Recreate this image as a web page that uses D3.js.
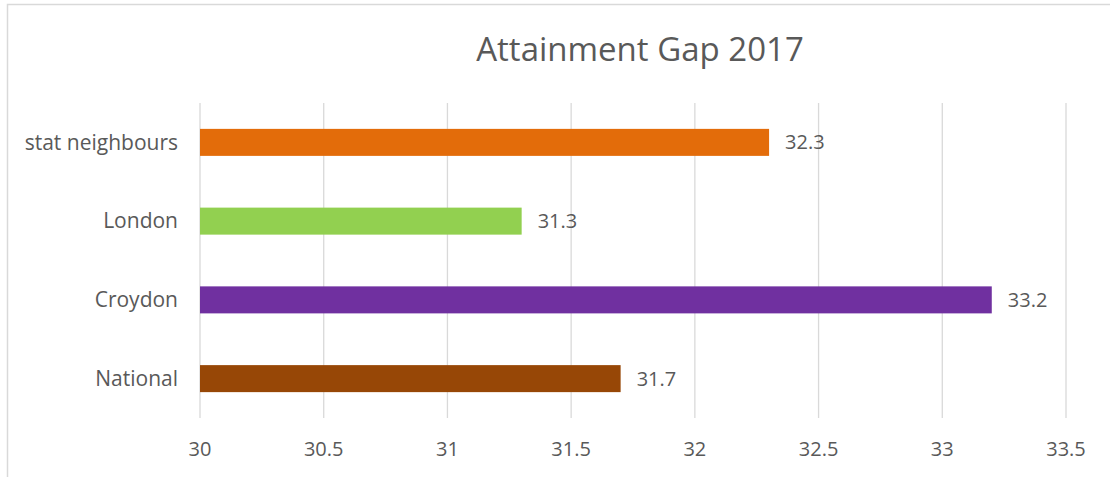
<!DOCTYPE html>
<html>
<head>
<meta charset="utf-8">
<script src="https://cdn.jsdelivr.net/npm/d3@7"></script>
<style>
  body { margin: 0; background: #fff; }
  svg { display: block; }
  text { font-family: "Open Sans", Lato, sans-serif; fill: #595959; }
</style>
</head>
<body>
<div id="chart"></div>
<script>
// data, top to bottom as drawn
const categories = ["stat neighbours", "London", "Croydon", "National"];
const values = [32.3, 31.3, 33.2, 31.7];
const barColours = ["#e36c0a", "#92d050", "#7030a0", "#974706"];
const xTicks = [30, 30.5, 31, 31.5, 32, 32.5, 33, 33.5];
const title = "Attainment Gap 2017";

const width = 1110, height = 477;
const margin = {top: 103, right: 44, bottom: 59, left: 200};

const svg = d3.select("#chart").append("svg")
  .attr("width", width)
  .attr("height", height);

// outer chart border (runs off the right and bottom of the picture)
svg.append("rect")
  .attr("x", 7.5).attr("y", 4.5)
  .attr("width", width + 20).attr("height", height + 20)
  .attr("fill", "none")
  .attr("stroke", "#d9d9d9")
  .attr("stroke-width", 1.5);

const x = d3.scaleLinear()
  .domain([30, 33.5])
  .range([margin.left, width - margin.right]);

const y = d3.scaleBand()
  .domain(categories)
  .range([margin.top, height - margin.bottom])
  .paddingInner(0.657)
  .paddingOuter(0.3285);

// gridlines
svg.append("g")
  .selectAll("line")
  .data(xTicks)
  .join("line")
  .attr("x1", d => x(d)).attr("x2", d => x(d))
  .attr("y1", margin.top).attr("y2", height - margin.bottom)
  .attr("stroke", "#d9d9d9")
  .attr("stroke-width", 1.3);

// x tick labels
svg.append("g")
  .selectAll("text")
  .data(xTicks)
  .join("text")
  .attr("x", d => x(d))
  .attr("y", 456)
  .attr("text-anchor", "middle")
  .attr("font-size", 20)
  .text(d => d);

// category labels
svg.append("g")
  .selectAll("text")
  .data(categories)
  .join("text")
  .attr("x", margin.left - 22)
  .attr("y", d => y(d) + y.bandwidth() / 2)
  .attr("dy", "0.35em")
  .attr("text-anchor", "end")
  .attr("font-size", 21)
  .text(d => d);

// bars
svg.append("g")
  .selectAll("rect")
  .data(categories)
  .join("rect")
  .attr("x", x(30))
  .attr("y", d => y(d))
  .attr("width", (d, i) => x(values[i]) - x(30))
  .attr("height", y.bandwidth())
  .attr("fill", (d, i) => barColours[i]);

// value labels
svg.append("g")
  .selectAll("text")
  .data(categories)
  .join("text")
  .attr("x", (d, i) => x(values[i]) + 16)
  .attr("y", d => y(d) + y.bandwidth() / 2)
  .attr("dy", "0.35em")
  .attr("font-size", 20)
  .text((d, i) => values[i].toFixed(1));

svg.append("text")
  .attr("x", 640)
  .attr("y", 61)
  .attr("text-anchor", "middle")
  .attr("font-size", 33)
  .text(title);
</script>
</body>
</html>
